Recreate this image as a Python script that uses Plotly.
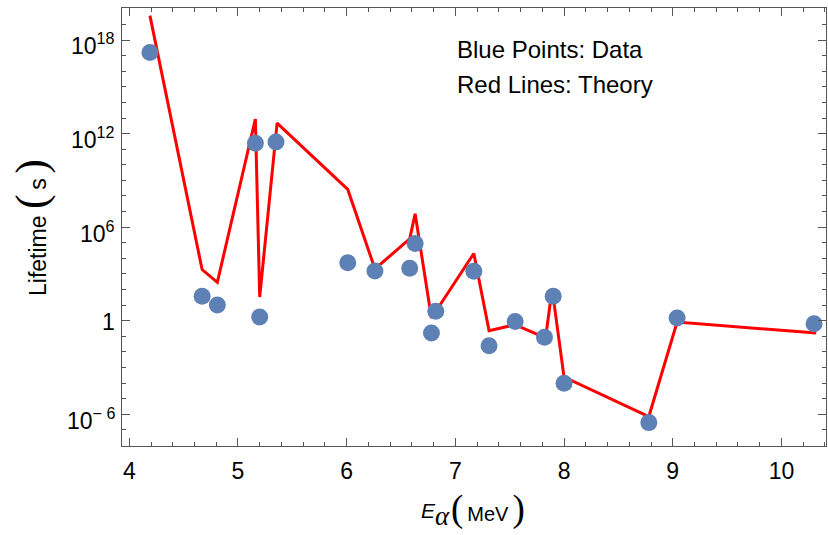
import plotly.graph_objects as go

# Data (blue points)
data_x = [4.19, 4.67, 4.81, 5.16, 5.20, 5.35, 6.01, 6.26, 6.58, 6.63, 6.78, 6.82,
          7.17, 7.31, 7.55, 7.82, 7.90, 8.00, 8.78, 9.04, 10.30]
data_logy = [17.2, 1.56, 1.01, 11.38, 0.24, 11.47, 3.71, 3.19, 3.37, 4.95, -0.79, 0.60,
             3.17, -1.61, -0.06, -1.07, 1.56, -4.01, -6.54, 0.17, -0.19]

# Theory (red line)
theory_x = [4.19, 4.67, 4.81, 5.16, 5.20, 5.36, 6.01, 6.26, 6.58, 6.63, 6.78,
            7.17, 7.31, 7.55, 7.83, 7.89, 8.00, 8.78, 9.04, 10.32]
theory_logy = [19.57, 3.28, 2.46, 12.93, 1.52, 12.67, 8.42, 3.32, 5.25, 6.86, 0.17,
               4.31, -0.64, -0.26, -1.11, 2.04, -3.62, -6.15, -0.09, -0.79]

x_major = [4, 5, 6, 7, 8, 9, 10]
y_major_exp = [-6, 0, 6, 12, 18]
y_major_text = ["10<sup>\u2212 6</sup>", "1", "10<sup>6</sup>", "10<sup>12</sup>", "10<sup>18</sup>"]
y_label_shift = [-5, -1, -5, -4, -4]   # style: vertical nudges of the labels (px)

data_y = [10 ** v for v in data_logy]
theory_y = [10 ** v for v in theory_logy]

x_minor = [round(3.8 + 0.2 * i, 2) for i in range(40)]
x_minor = [v for v in x_minor if abs(v - round(v)) > 1e-6]
y_minor = [10.0 ** e for e in range(-9, 22) if e not in y_major_exp]

frame = "#555555"
font = "Liberation Sans, Arial, sans-serif"

fig = go.Figure()
fig.add_trace(go.Scatter(x=theory_x, y=theory_y, mode="lines",
                         line=dict(color="#FF0000", width=3), showlegend=False))
fig.add_trace(go.Scatter(x=data_x, y=data_y, mode="markers",
                         marker=dict(color="#5E81B5", size=17, line=dict(width=0)),
                         showlegend=False))

annotations = []
for e, t, s in zip(y_major_exp, y_major_text, y_label_shift):
    annotations.append(dict(xref="paper", yref="y", x=0, y=e, text=t, showarrow=False,
                            xanchor="right", yanchor="middle", xshift=-5, yshift=s,
                            font=dict(size=23, family=font)))

annotations += [
    dict(xref="paper", yref="paper", x=(455 - 122) / 704, y=1 - (50 - 8) / 438,
         text="Blue Points: Data", showarrow=False, xanchor="left", yanchor="middle",
         font=dict(size=24, family=font)),
    dict(xref="paper", yref="paper", x=(455 - 122) / 704, y=1 - (85 - 8) / 438,
         text="Red Lines: Theory", showarrow=False, xanchor="left", yanchor="middle",
         font=dict(size=24, family=font)),
    # x-axis title: E_alpha (MeV)
    dict(xref="paper", yref="paper", x=(419 - 122) / 704, y=-(510 - 446) / 438,
         text="<i>E</i>", showarrow=False, xanchor="left", yanchor="middle",
         font=dict(size=21, family=font)),
    dict(xref="paper", yref="paper", x=(433 - 122) / 704, y=-(516 - 446) / 438,
         text="<i>\u03b1</i>", showarrow=False, xanchor="left", yanchor="middle",
         font=dict(size=27, family="Liberation Serif")),
    dict(xref="paper", yref="paper", x=(449 - 122) / 704, y=-(509 - 446) / 438,
         text="<span style='font-family:Liberation Serif;font-size:37px'>(</span>"
              "\u2009MeV\u2009"
              "<span style='font-family:Liberation Serif;font-size:37px'>)</span>",
         showarrow=False, xanchor="left", yanchor="middle",
         font=dict(size=20, family=font)),
    dict(xref="paper", yref="paper", x=-(122 - 31) / 704, y=1 - (228 - 8) / 438,
         text="Lifetime <span style='font-family:Liberation Serif;font-size:44px'>(</span>"
              "\u2009s\u2009<span style='font-family:Liberation Serif;font-size:44px'>)</span>",
         showarrow=False, textangle=-90, xanchor="center", yanchor="middle",
         font=dict(size=23, family=font)),
]

fig.update_layout(
    width=828, height=535,
    margin=dict(l=122, r=2, t=8, b=89),
    paper_bgcolor="white", plot_bgcolor="white",
    font=dict(family=font, color="black"),
    xaxis=dict(range=[3.933, 10.41], tickmode="array", tickvals=x_major,
               ticks="inside", ticklen=8, tickcolor=frame, tickwidth=1,
               showline=True, linecolor=frame, linewidth=1, mirror="allticks",
               showgrid=False, zeroline=False, tickfont=dict(size=23),
               ticklabelstandoff=4,
               minor=dict(tickmode="array", tickvals=x_minor, ticks="inside",
                          ticklen=4, tickcolor=frame, showgrid=False)),
    yaxis=dict(type="log", range=[-8.04, 20.06], tickmode="array",
               tickvals=[10.0 ** e for e in y_major_exp], showticklabels=False,
               ticks="inside", ticklen=8, tickcolor=frame, tickwidth=1,
               showline=True, linecolor=frame, linewidth=1, mirror="allticks",
               showgrid=False, zeroline=False,
               minor=dict(tickmode="array", tickvals=y_minor, ticks="inside",
                          ticklen=4, tickcolor=frame, showgrid=False)),
    annotations=annotations,
)

fig.write_html("out.html", config={"displayModeBar": False},
               post_script="document.body.style.margin='0px';")
